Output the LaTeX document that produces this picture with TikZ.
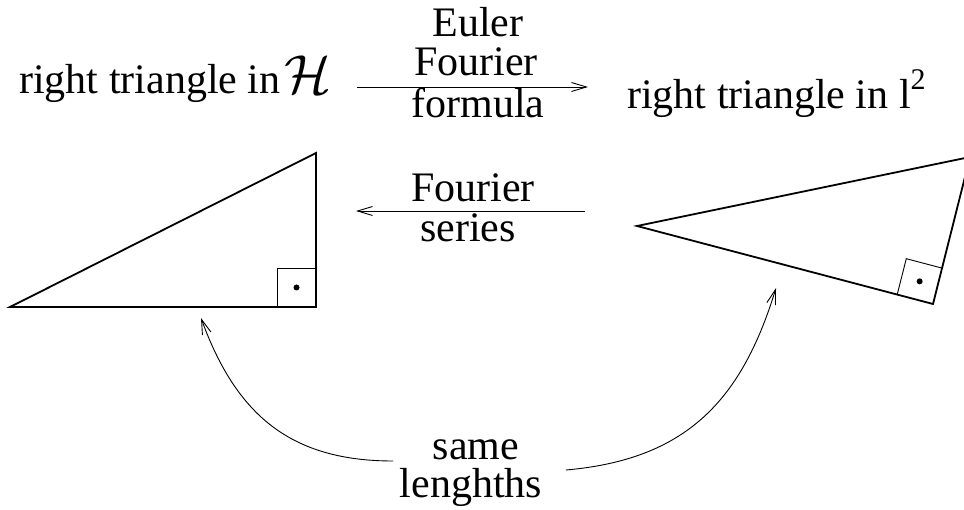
\documentclass[tikz,border=0pt]{standalone}
\usepackage{graphicx}
\usepackage{fontspec}
\setmainfont{Liberation Serif}
\usetikzlibrary{arrows.meta,calc}
\tikzset{
  lbl/.style={inner sep=0pt,font=\fontsize{42}{42}\selectfont},
  tri/.style={line width=1.8pt},
  anglebox/.style={line width=0.9pt},
  thinarrow/.style={line width=0.9pt,-{Straight Barb[length=15pt,width=9pt]}},
}
\newcommand{\hilbH}{\scalebox{5.5}{\fontsize{10}{10}\selectfont$\mathcal{H}$}}
\begin{document}
\begin{tikzpicture}[x=1pt,y=1pt]
\useasboundingbox (0,0) rectangle (964,-510);
% labels
\node[lbl,anchor=base west] (hilb) at (19,-94) {right triangle in\hspace{4pt}\hilbH};
\node[lbl,anchor=base west] (seq) at (627,-109) {right triangle in l\raisebox{19pt}{\fontsize{30}{30}\selectfont 2}};
\node[lbl,anchor=base] (euler) at (478,-37) {Euler};
\node[lbl,anchor=base] (four1) at (476,-76) {Fourier};
\node[lbl,anchor=base] (form) at (478,-118) {formula};
\node[lbl,anchor=base] (four2) at (473,-202) {Fourier};
\node[lbl,anchor=base] (ser) at (468,-242) {series};
\node[lbl,anchor=base] (same) at (476,-459) {same};
\node[lbl,anchor=base] (len) at (471,-497) {lenghths};
% left triangle
\coordinate (a1) at (10,-307);
\coordinate (b1) at (316,-153);
\coordinate (c1) at (316,-307);
\draw[tri] (a1) -- (c1) -- (b1) -- cycle;
\coordinate (p1) at ($(c1)!39pt!(a1)$);
\coordinate (q1) at ($(c1)!39pt!(b1)$);
\draw[anglebox] (p1) -- ($(p1)+(q1)-(c1)$) -- (q1);
\fill ($0.5*(p1)+0.5*(q1)$) circle (3pt);
% right triangle
\coordinate (a2) at (637,-226);
\coordinate (b2) at (970,-157);
\coordinate (c2) at (933,-304);
\draw[tri] (a2) -- (c2) -- (b2) -- cycle;
\coordinate (p2) at ($(c2)!37pt!(a2)$);
\coordinate (q2) at ($(c2)!37pt!(b2)$);
\draw[anglebox] (p2) -- ($(p2)+(q2)-(c2)$) -- (q2);
\fill ($0.5*(p2)+0.5*(q2)$) circle (3pt);
% arrows
\coordinate (t1) at (357,-87);
\coordinate (t2) at (588,-87);
\coordinate (m1) at (585,-211);
\coordinate (m2) at (356,-211);
\draw[thinarrow] (t1) -- (t2);
\draw[thinarrow] (m1) -- (m2);
\coordinate (l1) at (393,-461);
\coordinate (l2) at (201,-318);
\coordinate (r1) at (566,-470);
\coordinate (r2) at (776,-288);
\draw[thinarrow] (l1) to[out=180,in=-70,looseness=1.1] (l2);
\draw[thinarrow] (r1) to[out=5,in=-107,looseness=1.1] (r2);
\end{tikzpicture}
\end{document}
